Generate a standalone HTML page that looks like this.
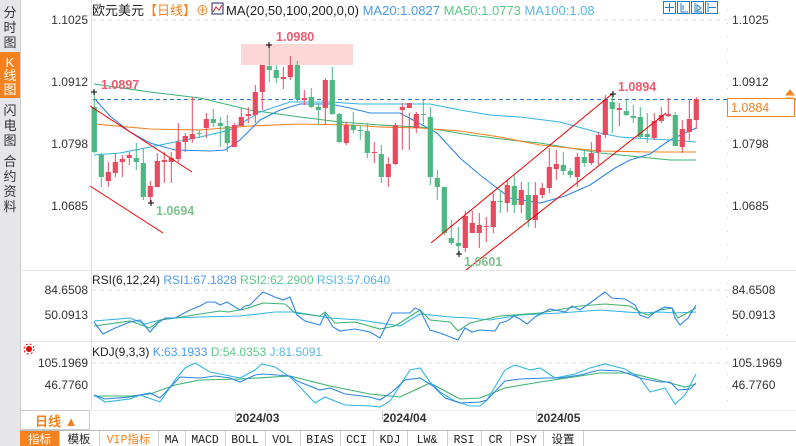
<!DOCTYPE html>
<html><head><meta charset="utf-8"><style>
html,body{margin:0;padding:0;width:796px;height:446px;overflow:hidden;background:#fff;font-family:"Liberation Sans","Noto Sans CJK SC",sans-serif}
svg{position:absolute;left:0;top:0}
</style></head><body>
<svg id="s" width="796" height="446" xmlns="http://www.w3.org/2000/svg" font-family="Liberation Sans, Noto Sans CJK SC, sans-serif">
<rect x="0" y="0" width="20" height="446" fill="#e6e6ea"/>
<rect x="0" y="52" width="20" height="46" fill="#f5821f"/>
<g font-size="13" fill="#333" text-anchor="middle">
<text x="10" y="17">分</text><text x="10" y="32">时</text><text x="10" y="47">图</text>
<text x="10" y="67" fill="#fff">K</text><text x="10" y="80" fill="#fff">线</text><text x="10" y="94" fill="#fff">图</text>
<text x="10" y="115">闪</text><text x="10" y="130">电</text><text x="10" y="145">图</text>
<text x="10" y="166">合</text><text x="10" y="181">约</text><text x="10" y="196">资</text><text x="10" y="211">料</text>
</g>
<line x1="20.5" y1="0" x2="20.5" y2="430" stroke="#ccc"/>
<line x1="91.5" y1="0" x2="91.5" y2="410" stroke="#e0e0e0"/>
<line x1="727.5" y1="10" x2="727.5" y2="410" stroke="#ccc" stroke-dasharray="1,12"/>
<line x1="92" y1="20" x2="727" y2="20" stroke="#ddd" stroke-dasharray="4,4"/>
<line x1="21" y1="270.5" x2="796" y2="270.5" stroke="#e6e6e6"/>
<line x1="21" y1="341.5" x2="796" y2="341.5" stroke="#e6e6e6"/>
<line x1="92" y1="290" x2="727" y2="290" stroke="#ddd" stroke-dasharray="4,4"/>
<line x1="92" y1="363" x2="727" y2="363" stroke="#ddd" stroke-dasharray="4,4"/>
<g font-size="12" fill="#333" text-anchor="end">
<text x="88" y="24">1.1025</text><text x="88" y="86">1.0912</text><text x="88" y="148">1.0798</text><text x="88" y="210">1.0685</text>
<text x="88" y="294">84.6508</text><text x="88" y="319">50.0913</text>
<text x="88" y="367">105.1969</text><text x="88" y="389">46.7760</text>
</g>
<g font-size="12" fill="#333">
<text x="732" y="24">1.1025</text><text x="732" y="86">1.0912</text><text x="732" y="148">1.0798</text><text x="732" y="210">1.0685</text>
<text x="732" y="294">84.6508</text><text x="732" y="319">50.0913</text>
<text x="732" y="367">105.1969</text><text x="732" y="389">46.7760</text>
</g>
<text x="92" y="15" font-size="13" fill="#222">欧元美元<tspan fill="#f5821f">【日线】⊕</tspan></text>
<rect x="212" y="3" width="11" height="11" fill="#fff" stroke="#226" />
<polyline points="213,12 216,7 219,10 222,5" fill="none" stroke="#d22"/>
<text x="226" y="15" font-size="13" fill="#222">MA(20,50,100,200,0,0) <tspan fill="#4a9af0">MA20:1.0827</tspan> <tspan fill="#5cc98a">MA50:1.0773</tspan> <tspan fill="#5ab8e8">MA100:1.08</tspan></text>
<g fill="none" stroke="#1a7fd0" stroke-width="1">
<rect x="663.5" y="1.5" width="12" height="12"/><rect x="677.5" y="1.5" width="12" height="12"/><rect x="691.5" y="1.5" width="12" height="12"/><rect x="705.5" y="1.5" width="12" height="12"/>
<path d="M669.5 3v9M665 7.5h9M681 3v9h7M683 5v5M695 3v9h7M697 5l4 3-4 3z M708 3v9M709 7.5h7"/>
</g>
<rect x="241" y="44" width="112" height="21" fill="#fdd6d6"/>
<line x1="93" y1="99.5" x2="796" y2="99.5" stroke="#2a7be0" stroke-dasharray="4,3"/>
<g id="ma" fill="none" stroke-width="1.1"></g>
<g id="cd"></g>
<g stroke="#e00" stroke-width="1">
<line x1="90" y1="106" x2="192" y2="172"/><line x1="90" y1="186" x2="163" y2="233"/>
<line x1="431" y1="243" x2="612" y2="94"/><line x1="466" y1="270" x2="666" y2="113"/>
</g>
<g stroke="#000" stroke-width="1"><path d="M91 92h6M94 89v6M266 45h6M269 42v6M148 203h6M151 200v6M456 254h6M459 251v6M610 94h6M613 91v6"/></g>
<g font-size="12.5" font-weight="bold">
<text x="101" y="89" fill="#ef5a6e">1.0897</text><text x="276" y="41" fill="#ef5a6e">1.0980</text>
<text x="156" y="215" fill="#7cc48e">1.0694</text><text x="464" y="266" fill="#7cc48e">1.0601</text>
<text x="618" y="91" fill="#ef5a6e">1.0894</text>
</g>
<rect x="727.5" y="98.5" width="67" height="18" fill="#fff" stroke="#f5821f"/>
<text x="731" y="112" font-size="12.5" fill="#f5821f">1.0884</text>
<path d="M786 95l4-5 4 5z M786 98h8" fill="#f5821f" stroke="#f5821f"/>
<text x="92" y="284" font-size="12" fill="#222">RSI(6,12,24) <tspan fill="#4a9af0">RSI1:67.1828</tspan> <tspan fill="#5cc98a">RSI2:62.2900</tspan> <tspan fill="#5ab8e8">RSI3:57.0640</tspan></text>
<text x="92" y="356" font-size="12" fill="#222">KDJ(9,3,3) <tspan fill="#4a9af0">K:63.1933</tspan> <tspan fill="#5cc98a">D:54.0353</tspan> <tspan fill="#5ab8e8">J:81.5091</tspan></text>
<circle cx="29" cy="349" r="3" fill="#e00"/><circle cx="29" cy="349" r="5" fill="none" stroke="#e00" stroke-dasharray="2,2"/>
<rect x="20.5" y="410.5" width="69" height="19" fill="#fff" stroke="#ccc"/>
<text x="35" y="426" font-size="13" font-weight="bold" fill="#f5821f">日线 ▲</text>
<line x1="92" y1="410.5" x2="796" y2="410.5" stroke="#eee"/>
<g font-size="12" font-weight="bold" fill="#333"><text x="236" y="422">2024/03</text><text x="383" y="422">2024/04</text><text x="537" y="422">2024/05</text></g>
<g stroke="#ccc"><line x1="235.5" y1="411" x2="235.5" y2="420"/><line x1="382.5" y1="411" x2="382.5" y2="420"/><line x1="536.5" y1="411" x2="536.5" y2="420"/></g>
<line x1="20" y1="430.5" x2="796" y2="430.5" stroke="#bbb"/>
<rect x="20" y="431" width="39" height="15" fill="#f5821f"/>
<g id="tb" font-family="Liberation Mono, Noto Sans CJK SC, monospace" font-size="11.5" fill="#222" text-anchor="middle"></g>
</svg>
<script>
var NS="http://www.w3.org/2000/svg";
function el(p,t,a){var e=document.createElementNS(NS,t);for(var k in a)e.setAttribute(k,a[k]);p.appendChild(e);return e;}
var C=[["g",107,152,90,153],["g",155,177,153,187],["r",172,181,162,187],["r",162,173,153,177],["r",159,162,155,177],["r",155,158,152,165],["g",158,162,143,170],["g",163,197,148,200],["r",186,197,181,203],["r",161,187,153,187],["r",160,162,152,183],["r",158,162,152,183],["r",142,159,123,162],["r",136,142,133,152],["r",134,139,97,143],["g",133,134,130,138],["r",119,128,113,138],["g",119,123,109,127],["g",123,126,117,147],["g",126,143,115,152],["r",125,147,123,147],["r",117,126,108,126],["r",114,116,107,123],["r",92,115,85,123],["r",65,92,65,110],["g",66,70,45,82],["g",70,78,65,83],["r",77,79,67,89],["r",65,77,56,80],["g",65,99,61,102],["r",98,100,90,105],["g",97,107,88,108],["g",107,110,103,125],["r",80,108,78,125],["g",80,114,67,115],["g",114,142,113,143],["r",125,143,122,145],["g",125,130,112,133],["g",130,131,125,140],["g",131,153,123,158],["r",152,153,142,163],["g",154,177,145,183],["r",164,177,157,187],["r",125,164,123,165],["r",107,110,103,150],["r",103,108,113,150],["r",114,128,112,133],["g",114,115,100,124],
["g",117,177,107,185],["g",178,187,170,200],["g",187,233,187,235],["g",238,243,220,245],["g",243,246,227,254],["r",216,248,211,252],["r",223,233,211,232],["r",225,233,213,248],["r",226,227,217,242],["r",201,227,193,233],["g",201,202,190,213],["r",185,203,180,212],["g",186,205,175,213],["r",190,205,182,213],["g",195,220,182,227],["r",195,220,182,228],["r",188,195,183,198],["r",167,188,148,193],["r",164,169,150,180],["g",165,171,152,175],["g",171,175,168,178],["r",157,177,153,187],["g",157,163,150,167],["r",153,163,142,165],["r",135,152,132,165],["r",100,135,95,138],["g",102,109,94,133],["r",108,110,103,126],["g",111,115,100,116],["g",116,118,105,123],["g",117,137,107,138],["g",134,137,113,143],["r",121,138,113,140],["r",115,121,107,123],["r",114,116,98,117],["g",115,146,112,146],["r",129,147,120,153],["r",119,132,100,140],["r",99,120,97,129]];
var cd=document.getElementById("cd");
C.forEach(function(c,i){var x=94.3+7*i;var col=c[0]=="r"?"#e84a5f":"#4db882";
el(cd,"line",{x1:x,y1:c[3],x2:x,y2:c[4],stroke:col,"stroke-width":1});
el(cd,"rect",{x:x-2.6,y:c[1],width:5.2,height:Math.max(1,c[2]-c[1]),fill:col});});
var ma=document.getElementById("ma");
function pl(p,pts,col){el(p,"polyline",{points:pts,stroke:col,fill:"none","stroke-width":1.1});}
pl(ma,"94,84 150,92 200,98 250,110 300,117 340,122 380,125 420,127 440,130 470,135 510,140 540,143 570,148 600,153 630,156 650,158 670,160 696,160","#3cb371");
pl(ma,"94,124 150,129 200,130 250,126 300,124 350,125 380,127 420,128 460,131 500,137 540,145 570,148 600,151 650,152 696,152","#f58220");
pl(ma,"94,155 120,153 160,145 200,137 230,130 260,112 290,102 330,102 360,104 400,104 430,104 460,110 490,115 520,117 560,122 600,133 620,137 650,139 670,140 696,142","#33b5e5");
pl(ma,"94,98 110,116 130,132 150,143 175,150 210,151 225,150 240,140 260,120 280,110 300,104 330,104 350,108 370,113 400,113 437,133 460,158 480,175 510,198 540,203 565,196 590,185 615,168 630,160 650,154 670,140 685,133 696,128","#2f86e8");
var s=document.getElementById("s");
pl(s,"94,321 130,318 145,324 160,320 175,318 200,317 240,316 275,312 295,312 330,318 360,320 400,326 420,314 450,317 470,318 490,320 520,315 560,313 600,310 640,313 660,312 675,313 696,312","#33b5e5");
pl(s,"94,326 130,321 150,328 160,320 175,318 200,314 220,311 228,312 245,309 263,303 285,304 295,313 320,316 325,312 335,323 355,322 380,329 395,326 420,310 430,320 450,322 458,331 470,323 500,316 540,313 580,306 605,304 630,306 640,312 648,315 660,310 672,308 678,318 696,308","#3cb371");
pl(s,"94,322 103,334 115,328 130,322 140,320 150,332 158,323 165,318 175,318 190,310 200,306 207,302 215,302 220,305 227,302 240,310 245,306 250,305 263,292 275,297 283,300 290,297 297,315 305,321 320,325 325,314 333,327 340,331 355,329 370,332 380,338 392,313 410,313 415,308 420,310 430,330 440,333 458,340 465,328 472,332 480,330 495,331 500,323 507,321 514,316 520,319 527,324 535,317 550,309 565,312 572,306 580,310 590,303 605,292 612,298 625,299 635,305 640,315 648,318 655,312 665,307 672,308 675,318 680,325 688,318 696,305","#2f86e8");
pl(s,"94,396 130,396 150,394 175,385 200,380 240,379 290,376 330,386 370,394 400,397 430,383 460,399 480,398 505,388 540,382 600,373 630,373 650,378 670,383 685,387 696,384","#3cb371");
pl(s,"94,395 105,402 130,399 140,395 160,402 175,380 185,368 195,363 210,372 225,375 240,378 255,370 262,364 275,367 290,377 300,387 315,403 325,397 345,405 370,406 380,407 390,401 410,370 420,368 430,382 440,392 455,401 470,406 480,406 487,400 505,370 515,365 530,370 540,368 555,378 560,377 575,374 590,368 605,364 625,369 640,378 650,392 665,388 675,404 685,395 696,374","#33b5e5");
pl(s,"94,395 105,399 130,397 150,393 160,398 180,377 200,378 215,376 230,378 240,382 255,375 263,374 290,376 297,381 320,390 330,388 345,394 370,397 380,400 392,392 405,380 420,378 433,386 445,398 460,403 480,402 487,400 505,381 520,379 545,378 560,378 580,375 600,370 620,371 635,376 640,378 660,382 670,382 678,390 690,389 696,383","#2f86e8");
var tb=document.getElementById("tb");
var T=[["指标",20,59],["模板",59,99],["VIP指标",99,158],["MA",158,185],["MACD",185,225],["BOLL",225,265],["VOL",265,300],["BIAS",300,340],["CCI",340,373],["KDJ",373,407],["LW&",407,447],["RSI",447,481],["CR",481,510],["PSY",510,543],["设置",543,583]];
T.forEach(function(t,i){var tx=el(tb,"text",{x:(t[1]+t[2])/2,y:443});tx.textContent=t[0];
if(i==0)tx.setAttribute("fill","#fff");if(i==2)tx.setAttribute("fill","#f5821f");
el(tb,"line",{x1:t[2]+0.5,y1:431,x2:t[2]+0.5,y2:446,stroke:"#ccc"});});
</script>
</body></html>
